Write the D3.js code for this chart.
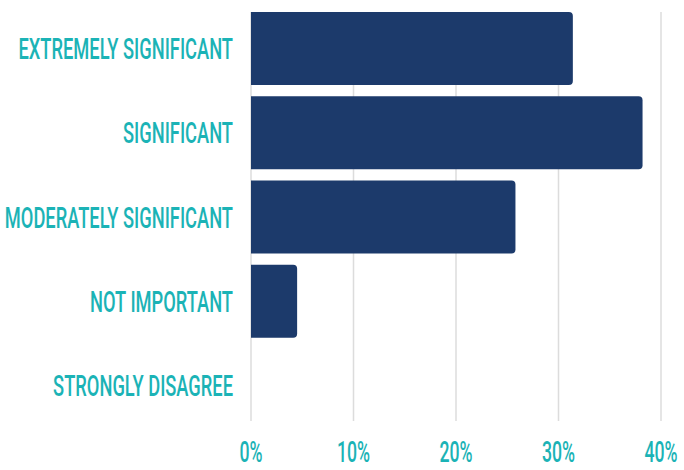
<!DOCTYPE html>
<html><head><meta charset="utf-8">
<script src="https://cdn.jsdelivr.net/npm/d3@7"></script>
<style>body{margin:0;background:#fff}svg{display:block}</style>
</head><body>
<svg id="c" width="684" height="470"></svg>
<script>
const categories = ["EXTREMELY SIGNIFICANT","SIGNIFICANT","MODERATELY SIGNIFICANT","NOT IMPORTANT","STRONGLY DISAGREE"];
const values = [31.4, 38.2, 25.8, 4.5, 0];
const ticks = [0, 10, 20, 30, 40];
const tickLabels = ["0%","10%","20%","30%","40%"];

const svg = d3.select("#c");
const x = d3.scaleLinear().domain([0,40]).range([251, 661]);
const y = d3.scaleBand().domain(categories).range([12, 422]).paddingInner(0.134).paddingOuter(0);
const teal = "#1bb3b6", navy = "#1c3a6b";
const sx = 0.61;

// gridlines
svg.append("g").selectAll("line").data(ticks).join("line")
  .attr("x1", d=>x(d)).attr("x2", d=>x(d))
  .attr("y1", 12).attr("y2", 421)
  .attr("stroke", "#dcdcdc").attr("stroke-width", 1.5);

// bars with rounded right corners
const r = 4;
svg.append("g").selectAll("path").data(values.map((v,i)=>({v, c:categories[i]})).filter(d=>d.v>0)).join("path")
  .attr("fill", navy)
  .attr("d", d=>{
    const x0 = x(0), x1 = x(d.v), y0 = y(d.c), y1 = y0 + y.bandwidth();
    return `M${x0},${y0}H${x1-r}Q${x1},${y0} ${x1},${y0+r}V${y1-r}Q${x1},${y1} ${x1-r},${y1}H${x0}Z`;
  });

// category labels
svg.append("g").selectAll("text").data(categories).join("text")
  .attr("transform", d=>`translate(233,${y(d)+y.bandwidth()/2 + 10.5}) scale(${sx},1)`)
  .attr("text-anchor","end")
  .attr("font-family","Roboto, sans-serif")
  .attr("font-weight", 500)
  .attr("font-size", 30)
  .attr("fill", teal)
  .text(d=>d);

// tick labels
svg.append("g").selectAll("text").data(ticks).join("text")
  .attr("transform", (d)=>`translate(${x(d)},462) scale(${sx},1)`)
  .attr("text-anchor","middle")
  .attr("font-family","Roboto, sans-serif")
  .attr("font-weight", 500)
  .attr("font-size", 29)
  .attr("fill", teal)
  .text((d,i)=>tickLabels[i]);
</script>
</body></html>
